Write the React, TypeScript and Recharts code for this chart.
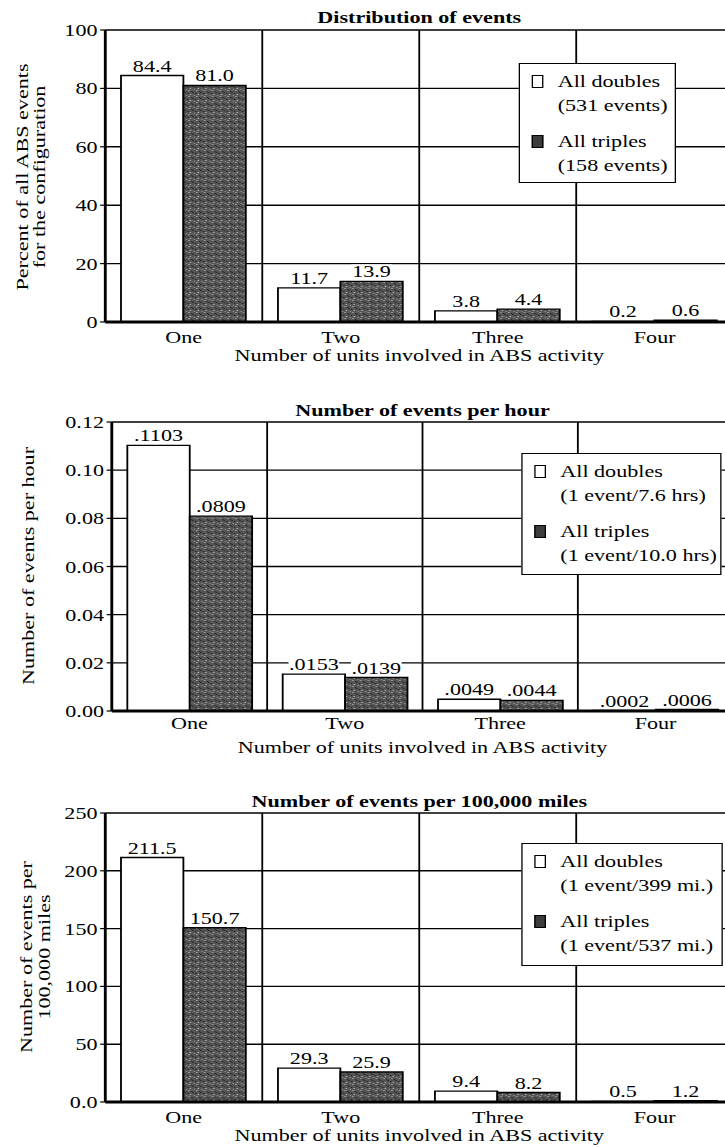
import React from "react";
import { BarChart, Bar, XAxis, YAxis, CartesianGrid, LabelList } from "recharts";

// the scan's type is ~1.3x wider than plain Times, so each panel is drawn narrow and stretched
const STRETCH = 1.3;
const FONT = '"Liberation Serif", "Times New Roman", serif';

const units = ["One", "Two", "Three", "Four"];

const shareDoubles = [84.4, 11.7, 3.8, 0.2];
const shareTriples = [81.0, 13.9, 4.4, 0.6];
const shareTicks = [0, 20, 40, 60, 80, 100];

const hourDoubles = [0.1103, 0.0153, 0.0049, 0.0002];
const hourTriples = [0.0809, 0.0139, 0.0044, 0.0006];
const hourTicks = [0, 0.02, 0.04, 0.06, 0.08, 0.1, 0.12];

const mileDoubles = [211.5, 29.3, 9.4, 0.5];
const mileTriples = [150.7, 25.9, 8.2, 1.2];
const mileTicks = [0, 50, 100, 150, 200, 250];

const shareLegend = ["All doubles", "(531 events)", "All triples", "(158 events)"];
const hourLegend = ["All doubles", "(1 event/7.6 hrs)", "All triples", "(1 event/10.0 hrs)"];
const mileLegend = ["All doubles", "(1 event/399 mi.)", "All triples", "(1 event/537 mi.)"];

const xTitle = "Number of units involved in ABS activity";

type Fmt = (v: number) => string;

const toRows = (doubles: number[], triples: number[]) =>
  units.map((unit, i) => ({ unit, doubles: doubles[i], triples: triples[i] }));

const ValueLabel = (props: any) => {
  const { x, y, width, value, fmt } = props;
  if (value === undefined || value === null) return null;
  const text = fmt(Number(value));
  const cx = Number(x) + Number(width) / 2;
  const base = Number(y) - 4;
  const w = text.length * 7.4 + 2;
  return (
    <g>
      <rect x={cx - w / 2} y={base - 13} width={w} height={14} fill="#fff" />
      <text x={cx} y={base} textAnchor="middle" fontSize={17} fill="#000" fontFamily={FONT}>
        {text}
      </text>
    </g>
  );
};

const Swatch = ({ dark }: { dark: boolean }) => (
  <span
    style={{
      position: "absolute",
      left: -20,
      top: 5,
      width: 9,
      height: 13,
      border: "1.2px solid #000",
      background: dark ? "#3d3d3d" : "#fff",
      boxSizing: "border-box",
    }}
  />
);

interface PanelProps {
  id: string;
  top: number;
  height: number;
  axisLeft: number;
  marginTop: number;
  xAxisHeight: number;
  tickGap: number;
  titleY: number;
  xTitleY: number;
  title: string;
  rows: { unit: string; doubles: number; triples: number }[];
  ticks: number[];
  tickFmt: Fmt;
  valFmt: Fmt;
  legend: string[];
  legendBox: { left: number; top: number; width: number; height: number };
}

const WIDTH = 577;
const PLOT_RIGHT = 564;

function Panel(p: PanelProps) {
  const pid = `stipple-${p.id}`;
  const plotW = PLOT_RIGHT - p.axisLeft;
  return (
    <div
      style={{
        position: "absolute",
        left: 0,
        top: p.top,
        width: WIDTH,
        height: p.height,
        transform: `scaleX(${STRETCH})`,
        transformOrigin: "0 0",
        fontFamily: FONT,
        color: "#000",
      }}
    >
      <div
        style={{
          position: "absolute",
          left: p.axisLeft,
          width: plotW,
          top: p.titleY - 10,
          lineHeight: "20px",
          textAlign: "center",
          fontWeight: "bold",
          fontSize: 17,
        }}
      >
        {p.title}
      </div>
      <BarChart
        width={WIDTH}
        height={p.height}
        data={p.rows}
        margin={{ top: p.marginTop, right: WIDTH - PLOT_RIGHT, bottom: 0, left: 0 }}
        barCategoryGap="10%"
        barGap={0}
      >
        <defs>
          <pattern id={pid} width={6} height={6} patternUnits="userSpaceOnUse">
            <rect width={6} height={6} fill="#555" />
            <rect x={1} y={0} width={1} height={1} fill="#b0b0b0" />
            <rect x={4} y={2} width={1} height={1} fill="#1c1c1c" />
            <rect x={2} y={4} width={1} height={1} fill="#bdbdbd" />
            <rect x={0} y={3} width={1} height={1} fill="#222" />
            <rect x={5} y={5} width={1} height={1} fill="#939393" />
            <rect x={3} y={1} width={1} height={1} fill="#2b2b2b" />
          </pattern>
        </defs>
        <CartesianGrid
          stroke="#000"
          strokeWidth={1.4}
          verticalCoordinatesGenerator={({ offset }: any) =>
            [1, 2, 3, 4].map((i) => offset.left + (offset.width * i) / units.length)
          }
        />
        <XAxis
          dataKey="unit"
          height={p.xAxisHeight}
          tickLine={false}
          tickSize={0}
          tickMargin={p.tickGap}
          axisLine={{ stroke: "#000", strokeWidth: 3 }}
          tick={{ fill: "#000", fontSize: 17, fontFamily: FONT }}
          interval={0}
        />
        <YAxis
          width={p.axisLeft}
          domain={[p.ticks[0], p.ticks[p.ticks.length - 1]]}
          ticks={p.ticks}
          tickFormatter={p.tickFmt}
          tickSize={4}
          tickMargin={2}
          tickLine={{ stroke: "#000", strokeWidth: 1.2 }}
          axisLine={{ stroke: "#000", strokeWidth: 2.2 }}
          tick={{ fill: "#000", fontSize: 17, fontFamily: FONT }}
          interval={0}
        />
        <Bar dataKey="doubles" fill="#fff" stroke="#000" strokeWidth={1.4} isAnimationActive={false}>
          <LabelList dataKey="doubles" content={(lp: any) => <ValueLabel {...lp} fmt={p.valFmt} />} />
        </Bar>
        <Bar dataKey="triples" fill={`url(#${pid})`} stroke="#000" strokeWidth={1.4} isAnimationActive={false}>
          <LabelList dataKey="triples" content={(lp: any) => <ValueLabel {...lp} fmt={p.valFmt} />} />
        </Bar>
      </BarChart>
      <div
        style={{
          position: "absolute",
          left: p.legendBox.left,
          top: p.legendBox.top,
          width: p.legendBox.width,
          height: p.legendBox.height,
          border: "1.5px solid #000",
          background: "#fff",
          boxSizing: "border-box",
          padding: "6px 0 0 29px",
          fontSize: 17,
          lineHeight: "24px",
          whiteSpace: "nowrap",
        }}
      >
        <div style={{ position: "relative" }}>
          <Swatch dark={false} />
          <div>{p.legend[0]}</div>
          <div>{p.legend[1]}</div>
        </div>
        <div style={{ position: "relative", marginTop: 12 }}>
          <Swatch dark={true} />
          <div>{p.legend[2]}</div>
          <div>{p.legend[3]}</div>
        </div>
      </div>
      <div
        style={{
          position: "absolute",
          left: p.axisLeft,
          width: plotW,
          top: p.xTitleY - 10,
          lineHeight: "20px",
          textAlign: "center",
          fontSize: 17,
        }}
      >
        {xTitle}
      </div>
    </div>
  );
}

const YTitle = ({ x, y, text }: { x: number; y: number; text: string }) => (
  <text
    transform={`translate(${x},${y}) rotate(-90) scale(${STRETCH},1)`}
    textAnchor="middle"
    dominantBaseline="central"
    fontSize={17}
    fontFamily={FONT}
    fill="#000"
  >
    {text}
  </text>
);

export default function App() {
  return (
    <div
      style={{
        position: "absolute",
        left: 0,
        top: 0,
        width: 725,
        height: 1147,
        overflow: "hidden",
        background: "#fff",
      }}
    >
      <Panel
        id="share"
        top={0}
        height={375}
        axisLeft={81}
        marginTop={30}
        xAxisHeight={53}
        tickGap={9}
        titleY={18}
        xTitleY={356}
        title="Distribution of events"
        rows={toRows(shareDoubles, shareTriples)}
        ticks={shareTicks}
        tickFmt={(v) => String(v)}
        valFmt={(v) => v.toFixed(1)}
        legend={shareLegend}
        legendBox={{ left: 399, top: 63, width: 121, height: 120 }}
      />
      <Panel
        id="hour"
        top={380}
        height={375}
        axisLeft={86}
        marginTop={42}
        xAxisHeight={44}
        tickGap={6}
        titleY={31}
        xTitleY={368}
        title="Number of events per hour"
        rows={toRows(hourDoubles, hourTriples)}
        ticks={hourTicks}
        tickFmt={(v) => v.toFixed(2)}
        valFmt={(v) => v.toFixed(4).replace(/^0/, "")}
        legend={hourLegend}
        legendBox={{ left: 401, top: 73, width: 154, height: 122 }}
      />
      <Panel
        id="mile"
        top={760}
        height={387}
        axisLeft={81}
        marginTop={53}
        xAxisHeight={45}
        tickGap={9}
        titleY={42}
        xTitleY={376}
        title="Number of events per 100,000 miles"
        rows={toRows(mileDoubles, mileTriples)}
        ticks={mileTicks}
        tickFmt={(v) => (v === 0 ? "0.0" : String(v))}
        valFmt={(v) => v.toFixed(1)}
        legend={mileLegend}
        legendBox={{ left: 401, top: 83, width: 155, height: 123 }}
      />
      <svg
        width={725}
        height={1147}
        style={{ position: "absolute", left: 0, top: 0, pointerEvents: "none" }}
      >
        <YTitle x={22} y={177} text="Percent of all ABS events" />
        <YTitle x={39} y={177} text="for the configuration" />
        <YTitle x={28} y={566} text="Number of events per hour" />
        <YTitle x={26} y={957} text="Number of events per" />
        <YTitle x={44} y={957} text="100,000 miles" />
      </svg>
    </div>
  );
}
